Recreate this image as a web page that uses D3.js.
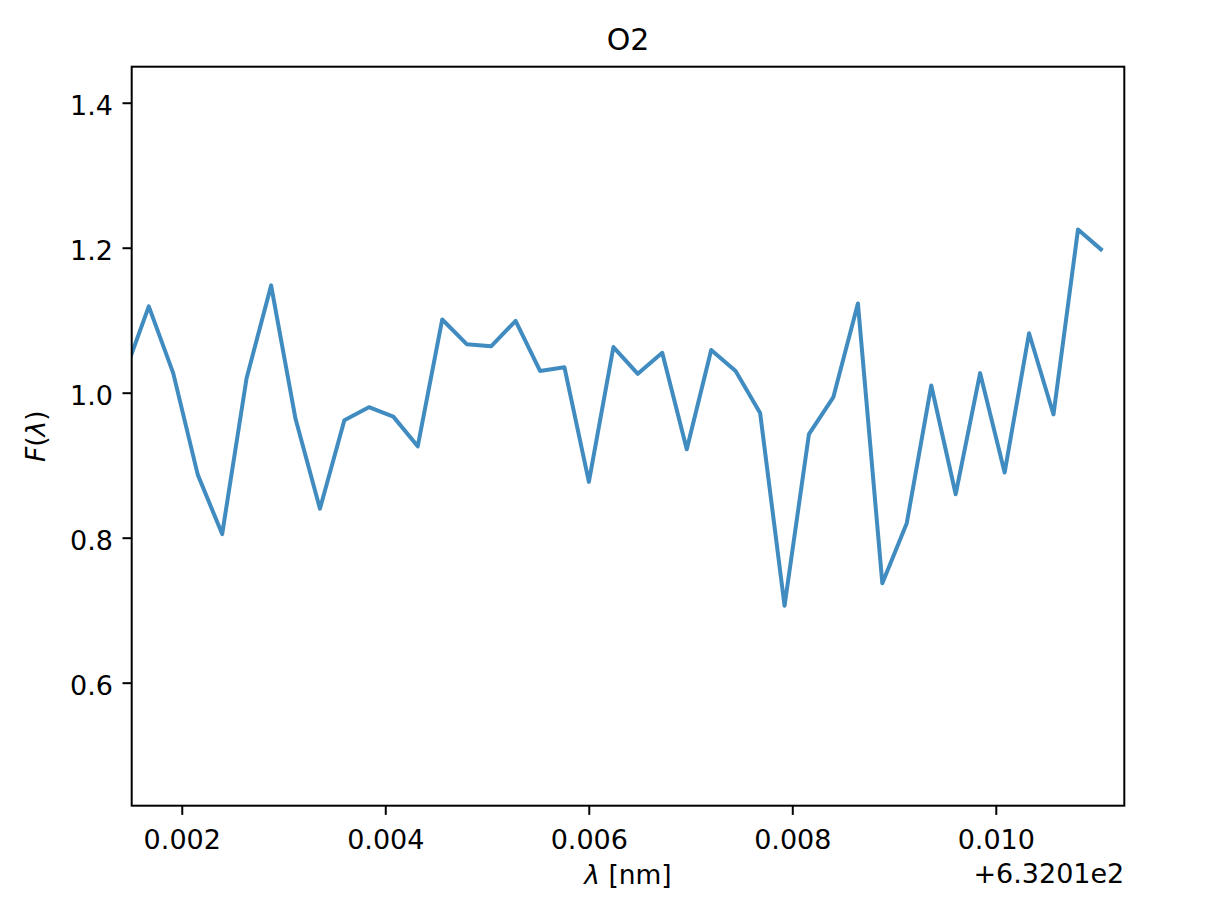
<!DOCTYPE html>
<html>
<head>
<meta charset="utf-8">
<script src="https://cdn.jsdelivr.net/npm/d3@7"></script>
<style>
  html, body { margin: 0; padding: 0; background: #fff; }
  svg { display: block; font-family: "DejaVu Sans", sans-serif; }
</style>
</head>
<body>
<svg id="chart" width="1222" height="908"></svg>
<script>
// ---- Data ----
const titleText = "O2";
const wavelengthOffsetBase = "+6.3201e2";   // axis offset text (632.01 nm)
const wavelengthOffset = [
  0.001436, 0.001676, 0.001916, 0.002157, 0.002397, 0.002637, 0.002878, 0.003118,
  0.003358, 0.003598, 0.003839, 0.004079, 0.004319, 0.004560, 0.004800, 0.005040,
  0.005281, 0.005521, 0.005761, 0.006001, 0.006242, 0.006482, 0.006722, 0.006963,
  0.007203, 0.007443, 0.007684, 0.007924, 0.008164, 0.008404, 0.008645, 0.008885,
  0.009125, 0.009366, 0.009606, 0.009846, 0.010087, 0.010327, 0.010567, 0.010808,
  0.011048
];
const flux = [
  1.026, 1.119, 1.027, 0.887, 0.805, 1.020, 1.148, 0.964,
  0.840, 0.962, 0.980, 0.967, 0.926, 1.101, 1.067, 1.064,
  1.099, 1.030, 1.035, 0.877, 1.063, 1.026, 1.055, 0.922,
  1.059, 1.030, 0.972, 0.706, 0.943, 0.994, 1.123, 0.737,
  0.820, 1.010, 0.860, 1.027, 0.890, 1.082, 0.970, 1.225,
  1.196
];
const xTicks = [0.002, 0.004, 0.006, 0.008, 0.010];
const xTickLabels = ["0.002", "0.004", "0.006", "0.008", "0.010"];
const yTicks = [0.6, 0.8, 1.0, 1.2, 1.4];
const yTickLabels = ["0.6", "0.8", "1.0", "1.2", "1.4"];
const xDomain = [0.001508, 0.011263];
const yDomain = [0.4303, 1.4497];

// ---- Layout ----
const plot = { left: 131.7, right: 1124.3, top: 66.7, bottom: 805.7 };
const svg = d3.select("#chart");

const x = d3.scaleLinear().domain(xDomain).range([plot.left, plot.right]);
const y = d3.scaleLinear().domain(yDomain).range([plot.bottom, plot.top]);

svg.append("defs").append("clipPath").attr("id", "clip")
  .append("rect")
  .attr("x", plot.left).attr("y", plot.top)
  .attr("width", plot.right - plot.left).attr("height", plot.bottom - plot.top);

const data = wavelengthOffset.map((d, i) => ({ x: d, y: flux[i] }));

// line
svg.append("path")
  .datum(data)
  .attr("clip-path", "url(#clip)")
  .attr("fill", "none")
  .attr("stroke", "#1f77b4")
  .attr("stroke-opacity", 0.85)
  .attr("stroke-width", 4)
  .attr("stroke-linejoin", "round")
  .attr("stroke-linecap", "butt")
  .attr("d", d3.line().x(d => x(d.x)).y(d => y(d.y)));

// axes
const xAxis = d3.axisBottom(x).tickValues(xTicks)
  .tickFormat((d, i) => xTickLabels[i]).tickSize(9.2).tickPadding(9);
const yAxis = d3.axisLeft(y).tickValues(yTicks)
  .tickFormat((d, i) => yTickLabels[i]).tickSize(9.2).tickPadding(9);

const gx = svg.append("g").attr("transform", `translate(0,${plot.bottom})`).call(xAxis);
const gy = svg.append("g").attr("transform", `translate(${plot.left},0)`).call(yAxis);

[gx, gy].forEach(g => {
  g.select(".domain").remove();
  g.selectAll(".tick line").attr("stroke", "#000").attr("stroke-width", 2);
  g.selectAll(".tick text").attr("fill", "#000")
    .style("font-family", "DejaVu Sans").style("font-size", "27px");
});
gx.selectAll(".tick text").attr("dy", null).attr("y", 43);
gy.selectAll(".tick text").attr("dy", null).attr("x", -18.7).attr("y", 11.8);

// frame (spines)
svg.append("rect")
  .attr("x", plot.left).attr("y", plot.top)
  .attr("width", plot.right - plot.left).attr("height", plot.bottom - plot.top)
  .attr("fill", "none").attr("stroke", "#000").attr("stroke-width", 2);

// title
svg.append("text")
  .attr("x", (plot.left + plot.right) / 2).attr("y", 50)
  .attr("text-anchor", "middle")
  .style("font-size", "30px")
  .text(titleText);

// x label: λ [nm]
const xl = svg.append("text")
  .attr("x", (plot.left + plot.right) / 2).attr("y", 884)
  .attr("text-anchor", "middle")
  .style("font-size", "26.5px");
xl.append("tspan").style("font-style", "italic").text("λ");
xl.append("tspan").text(" [nm]");

// offset text
svg.append("text")
  .attr("x", plot.right).attr("y", 883.3)
  .attr("text-anchor", "end")
  .style("font-size", "27px")
  .text(wavelengthOffsetBase);

// y label: F(λ)
const yl = svg.append("text")
  .attr("transform", `translate(45,${(plot.top + plot.bottom) / 2}) rotate(-90)`)
  .attr("text-anchor", "middle")
  .style("font-size", "26.5px");
yl.append("tspan").style("font-style", "italic").text("F");
yl.append("tspan").text("(");
yl.append("tspan").style("font-style", "italic").text("λ");
yl.append("tspan").text(")");
</script>
</body>
</html>
